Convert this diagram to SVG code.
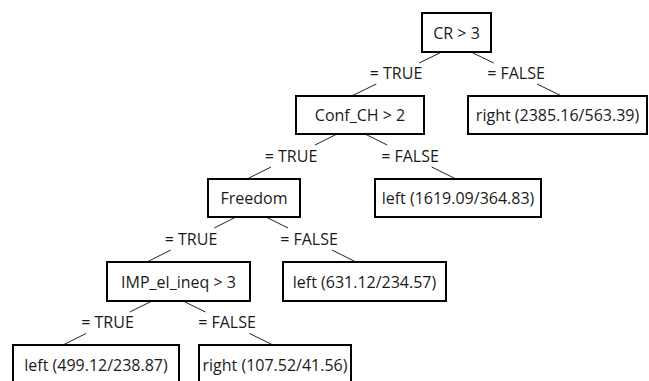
<svg xmlns="http://www.w3.org/2000/svg" width="649" height="381" viewBox="0 0 649 381">
<style>
.box rect{fill:#fff;stroke:#000;stroke-width:2}
text{font-family:"Open Sans","Noto Sans",sans-serif;font-size:16px;fill:#1a1a1a;text-anchor:middle}
#edges line{stroke:#222;stroke-width:1}
</style>
<rect width="649" height="381" fill="#fff"/>
<g id="edges">
<line x1="441.7" y1="52" x2="419.2" y2="63"/><line x1="376.3" y1="84" x2="351.7" y2="96"/>
<line x1="471" y1="52" x2="493.7" y2="63"/><line x1="537" y1="84" x2="561.7" y2="96"/>
<line x1="337" y1="134" x2="315" y2="145"/><line x1="271" y1="167" x2="247" y2="179"/>
<line x1="365" y1="134" x2="387.2" y2="145"/><line x1="431.7" y1="167" x2="456" y2="179"/>
<line x1="236" y1="217" x2="214.2" y2="228"/><line x1="170.7" y1="250" x2="147" y2="262"/>
<line x1="266" y1="217" x2="288" y2="228"/><line x1="332" y1="250" x2="356" y2="262"/>
<line x1="152" y1="301" x2="129.7" y2="312"/><line x1="86" y1="333.5" x2="63" y2="345"/>
<line x1="183" y1="301" x2="205.5" y2="312"/><line x1="249.5" y1="333.5" x2="273" y2="345"/>
<text x="396" y="79">= TRUE</text><text x="516" y="79">= FALSE</text>
<text x="291" y="161.5">= TRUE</text><text x="410" y="161.5">= FALSE</text>
<text x="191" y="244.5">= TRUE</text><text x="309" y="244.5">= FALSE</text>
<text x="107.5" y="328">= TRUE</text><text x="227" y="328">= FALSE</text>
</g>
<g id="n_cr" class="box"><rect x="422" y="13" width="69" height="39"/><text x="456.5" y="38.5">CR &gt; 3</text></g>
<g id="n_confch" class="box"><rect x="296" y="96" width="128" height="38"/><text x="360" y="121">Conf_CH &gt; 2</text></g>
<g id="n_right1" class="box"><rect x="468" y="96" width="179" height="38"/><text x="557.5" y="121">right (2385.16/563.39)</text></g>
<g id="n_freedom" class="box"><rect x="208" y="179" width="92" height="38"/><text x="254" y="204">Freedom</text></g>
<g id="n_left1" class="box"><rect x="375" y="179" width="166" height="38"/><text x="458" y="204">left (1619.09/364.83)</text></g>
<g id="n_imp" class="box"><rect x="107" y="262" width="143" height="39"/><text x="178.5" y="287.5">IMP_el_ineq &gt; 3</text></g>
<g id="n_left2" class="box"><rect x="283" y="262" width="163" height="39"/><text x="364.5" y="287.5">left (631.12/234.57)</text></g>
<g id="n_left3" class="box"><rect x="13" y="345" width="166" height="40"/><text x="96" y="370.5">left (499.12/238.87)</text></g>
<g id="n_right2" class="box"><rect x="199" y="345" width="152" height="40"/><text x="275" y="370.5">right (107.52/41.56)</text></g>
</svg>
